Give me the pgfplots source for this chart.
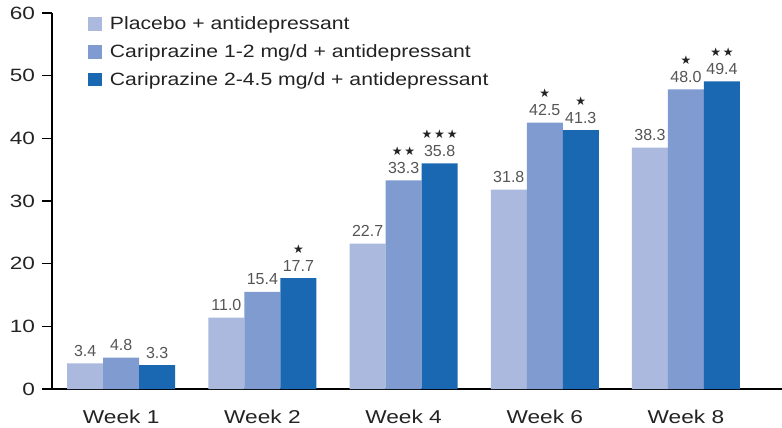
\documentclass[border=0pt]{standalone}
\usepackage{fontspec}
\setmainfont{Liberation Sans}
\newfontfamily\wkfont[FakeStretch=1.22]{Liberation Sans}
\newfontfamily\ytfont[FakeStretch=1.27]{Liberation Sans}
\newfontfamily\lgfont[FakeStretch=1.19]{Liberation Sans}
\newfontfamily\symfont{DejaVu Sans}
\usepackage{pgfplots}
\pgfplotsset{compat=1.18}
\definecolor{cA}{RGB}{170,185,221}
\definecolor{cB}{RGB}{127,155,208}
\definecolor{cC}{RGB}{26,103,178}
\definecolor{txt}{RGB}{35,35,35}
\definecolor{lbl}{RGB}{85,85,85}
\newcommand{\lab}[2]{\raisebox{0pt}[\height][0pt]{\begin{tabular}[b]{@{}c@{}}{\color{txt}\symfont\fontsize{6}{7}\selectfont #1}\\[0.8pt]#2\end{tabular}}}
\newcommand{\starA}{★}
\newcommand{\starB}{★\kern0.9pt★}
\newcommand{\starC}{★\kern0.9pt★\kern0.9pt★}
\begin{document}
\begin{tikzpicture}
\begin{axis}[
  at={(0,0)}, anchor=south west,
  width=365pt, height=188pt, scale only axis,
  ybar=0pt, bar width=18pt,
  xmin=-0.49, xmax=4.68, ymin=0, ymax=60,
  xtick={0,1,2,3,4},
  xticklabels={Week 1, Week 2, Week 4, Week 6, Week 8},
  ytick={0,10,...,60},
  axis x line*=bottom, axis y line*=left,
  axis line style={line width=1pt, black},
  tick align=outside, major tick length=5pt,
  x tick style={draw=none},
  y tick style={line width=0.8pt, black},
  xticklabel style={font=\wkfont\fontsize{9.3}{11}\selectfont, text=txt, anchor=base, yshift=-12.2pt},
  yticklabel style={font=\ytfont\fontsize{8.9}{11}\selectfont, text=txt},
  /pgf/number format/assume math mode=true,
  point meta=explicit symbolic,
  nodes near coords,
  nodes near coords style={font=\fontsize{8}{8.3}\selectfont, text=lbl, inner sep=0pt, anchor=south, yshift=3.2pt},
  legend image code/.code={\fill[#1] (0pt,-3.7pt) rectangle (6.9pt,3.1pt);},
  legend style={at={(0.0484,0.991)}, anchor=north west, draw=none, fill=none, inner sep=0pt,
    font=\lgfont\fontsize{8.9}{11}\selectfont, text=txt, row sep=7pt,
    nodes={inner sep=0pt, text height=6.5pt, text depth=0pt}},
  legend cell align=left,
  every axis plot/.append style={draw=none},
]
\addplot[fill=cA] coordinates {(0,4.1)[3.4] (1,11.4)[11.0] (2,23.2)[22.7] (3,31.8)[31.8] (4,38.5)[38.3]};
\addlegendentry{\hspace{4.2pt}Placebo + antidepressant}
\addplot[fill=cB] coordinates {(0,5.0)[4.8] (1,15.5)[15.4] (2,33.3)[{\lab{\starB}{33.3}}] (3,42.5)[{\lab{\starA}{42.5}}] (4,47.8)[{\lab{\starA}{48.0}}]};
\addlegendentry{\hspace{4.2pt}Cariprazine 1-2 mg/d + antidepressant}
\addplot[fill=cC] coordinates {(0,3.8)[3.3] (1,17.7)[{\lab{\starA}{17.7}}] (2,36.0)[{\lab{\starC}{35.8}}] (3,41.3)[{\lab{\starA}{41.3}}] (4,49.1)[{\lab{\starB}{49.4}}]};
\addlegendentry{\hspace{4.2pt}Cariprazine 2-4.5 mg/d + antidepressant}
\end{axis}
\pgfresetboundingbox
\path[use as bounding box] (-26pt,-19.5pt) rectangle (365pt,194.5pt);
\end{tikzpicture}
\end{document}
